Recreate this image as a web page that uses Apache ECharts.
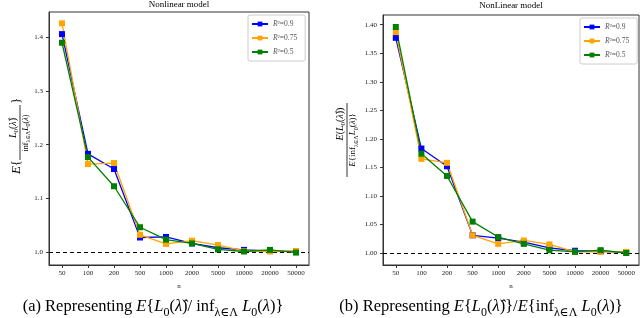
<!DOCTYPE html>
<html><head><meta charset="utf-8">
<script src="https://cdn.jsdelivr.net/npm/echarts@6/dist/echarts.min.js"></script>
<style>html,body{margin:0;padding:0;background:#fff}#c{width:640px;height:318px}</style>
</head><body><div id="c"></div><script>
const categories = ['50','100','200','500','1000','2000','5000','10000','20000','50000'];
const seriesNames = ['R²=0.9','R²=0.75','R²=0.5'];
const leftR09  = [1.405,1.183,1.155,1.028,1.029,1.017,1.009,1.005,1.003,1.002];
const leftR075 = [1.425,1.164,1.166,1.033,1.016,1.022,1.014,1.003,1.002,1.003];
const leftR05  = [1.389,1.177,1.123,1.047,1.024,1.017,1.006,1.002,1.005,1.000];
const rightR09  = [1.377,1.183,1.152,1.031,1.026,1.019,1.009,1.004,1.003,1.001];
const rightR075 = [1.387,1.165,1.158,1.031,1.016,1.022,1.015,1.002,1.002,1.002];
const rightR05  = [1.396,1.174,1.135,1.055,1.028,1.016,1.005,1.002,1.005,1.000];
const leftTicks = [1.0,1.1,1.2,1.3,1.4];
const rightTicks = [1.00,1.05,1.10,1.15,1.20,1.25,1.30,1.35,1.40];
const refValue = 1.0;

const colors = ['#0000ff','#ffa500','#008000'];
const serif = "'Liberation Serif','DejaVu Serif',serif";
const chart = echarts.init(document.getElementById('c'));

function rich(size){
  return {
    n:{fontFamily:serif,fontSize:size,lineHeight:Math.round(size*1.4),color:'#000'},
    i:{fontFamily:serif,fontSize:size,fontStyle:'italic',lineHeight:Math.round(size*1.4),color:'#000'},
    s:{fontFamily:serif,fontSize:Math.round(size*0.7),lineHeight:Math.round(size*0.7),verticalAlign:'bottom',color:'#000'}
  };
}
function txt(x,y,text,size,align,extra){
  return Object.assign({type:'text',x:x,y:y,style:{text:text,rich:rich(size),fontFamily:serif,fontSize:size,lineHeight:Math.round(size*1.4),align:align||'center',verticalAlign:'middle',fill:'#000'}},extra||{});
}

function mkSeries(name,data,color,idx,withRef){
  const s = {name:name,type:'line',xAxisIndex:idx,yAxisIndex:idx,data:data,
    symbol:'rect',symbolSize:6,showSymbol:true,
    itemStyle:{color:color},lineStyle:{color:color,width:1.3},z:3};
  if(withRef){
    s.markLine = {silent:true,symbol:'none',label:{show:false},
      lineStyle:{color:'#000',type:[4,3],width:1.1},data:[{yAxis:refValue}],z:2};
  }
  return s;
}
function xAxis(idx){
  return {type:'category',gridIndex:idx,data:categories,boundaryGap:true,
    name:'n',nameLocation:'middle',nameGap:18,nameTextStyle:{fontFamily:serif,fontSize:7,color:'#222'},
    axisLine:{show:true,lineStyle:{color:'#333',width:1}},
    axisTick:{show:true,alignWithLabel:true,length:3,lineStyle:{color:'#333'}},
    axisLabel:{fontFamily:serif,fontSize:7,color:'#222',margin:5,interval:0},
    splitLine:{show:false}};
}
function yAxis(idx,min,max,ticks,dec){
  return {type:'value',gridIndex:idx,min:min,max:max,
    axisLine:{show:true,lineStyle:{color:'#333',width:1}},
    axisTick:{show:true,length:3,customValues:ticks,lineStyle:{color:'#333'}},
    axisLabel:{fontFamily:serif,fontSize:7,color:'#222',margin:6,customValues:ticks,formatter:v=>v.toFixed(dec)},
    splitLine:{show:false}};
}
function legend(left,top){
  return {data:seriesNames,orient:'vertical',left:left,top:top,
    itemWidth:16,itemHeight:6,itemGap:6,padding:[5,8,5,3],
    backgroundColor:'rgba(255,255,255,0.8)',borderColor:'#ccc',borderWidth:1,borderRadius:2,
    formatter:n=>'{i|R}{n|'+n.slice(1)+'}',
    textStyle:{fontFamily:serif,fontSize:7,rich:{i:{fontFamily:serif,fontSize:7.5,fontStyle:'italic'},n:{fontFamily:serif,fontSize:7.5}}}};
}

const option = {
  animation:false,
  backgroundColor:'#fff',
  grid:[
    {left:49,top:12,width:260,height:253,show:true,borderColor:'#333',borderWidth:1,backgroundColor:'transparent'},
    {left:383,top:15,width:256,height:250,show:true,borderColor:'#333',borderWidth:1,backgroundColor:'transparent'}
  ],
  xAxis:[xAxis(0),xAxis(1)],
  yAxis:[yAxis(0,0.977,1.446,leftTicks,1),yAxis(1,0.979,1.417,rightTicks,2)],
  legend:[legend(248,15),legend(580,18)],
  series:[
    mkSeries(seriesNames[0],leftR09,colors[0],0,true),
    mkSeries(seriesNames[1],leftR075,colors[1],0,false),
    mkSeries(seriesNames[2],leftR05,colors[2],0,false),
    mkSeries(seriesNames[0],rightR09,colors[0],1,true),
    mkSeries(seriesNames[1],rightR075,colors[1],1,false),
    mkSeries(seriesNames[2],rightR05,colors[2],1,false)
  ],
  graphic:[
    txt(179,5,'Nonlinear model',9),
    txt(511,6,'NonLinear model',9),
    {type:'group',x:20,y:138,rotation:Math.PI/2,children:[
      txt(-29,-3,'{i|E}{n|{}',13),
      txt(10,-7,'{i|L}{s|0}{n|(}{i|λ̂}{n|)}',10),
      {type:'line',shape:{x1:-22,y1:0,x2:33,y2:0},style:{stroke:'#000',lineWidth:0.8}},
      txt(5,6,'{n|inf}{s|λ∈Λ}{i|L}{s|0}{n|(}{i|λ}{n|)}',8),
      txt(37,-3,'}',13)
    ]},
    {type:'group',x:347,y:140,rotation:Math.PI/2,children:[
      txt(16,-7,'{i|E}{n|(}{i|L}{s|0}{n|(}{i|λ̂}{n|))}',10),
      {type:'line',shape:{x1:-37,y1:0,x2:37,y2:0},style:{stroke:'#000',lineWidth:0.8}},
      txt(0,6,'{i|E}{n|{inf}{s|λ∈Λ}{i|L}{s|0}{n|(}{i|λ}{n|)}}',9)
    ]},
    txt(153,307,'{n|(a) Representing }{i|E}{n|{}{i|L}{s|0}{n|(}{i|λ̂}{n|)/ inf}{s|λ∈Λ}{n| }{i|L}{s|0}{n|(}{i|λ}{n|)}}',16.5),
    txt(481,307,'{n|(b) Representing }{i|E}{n|{}{i|L}{s|0}{n|(}{i|λ̂}{n|)}}{n|/}{i|E}{n|{inf}{s|λ∈Λ}{n| }{i|L}{s|0}{n|(}{i|λ}{n|)}}',16.5)
  ]
};
chart.setOption(option);
</script></body></html>
